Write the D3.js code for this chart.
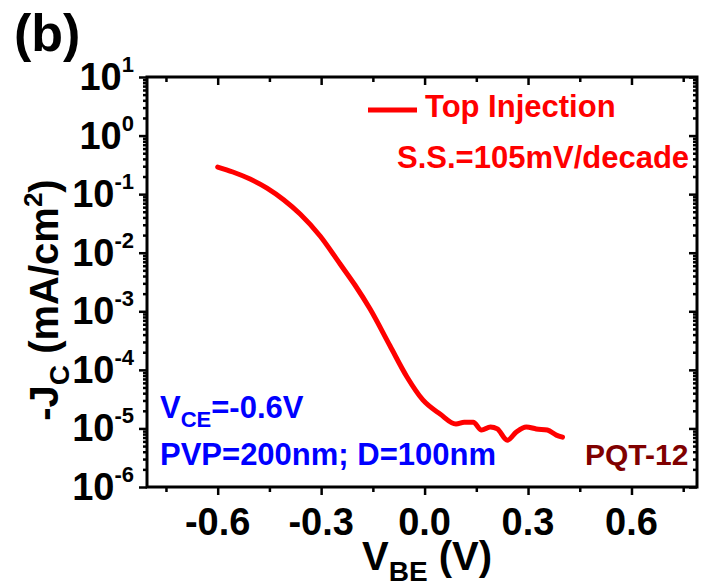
<!DOCTYPE html>
<html><head><meta charset="utf-8">
<script src="https://cdn.jsdelivr.net/npm/d3@7"></script>
<style>
body{margin:0;background:#fff;}
svg text{font-family:Arial,"Liberation Sans",sans-serif;font-weight:bold;}
</style></head>
<body><svg id="c" width="702" height="588"></svg>
<script>
// Data
const vbe = [-0.6,-0.556,-0.506,-0.457,-0.408,-0.361,-0.303,-0.245,-0.202,-0.158,-0.10,-0.051,-0.005,0.045,0.091,0.115,0.141,0.165,0.191,0.211,0.24,0.266,0.295,0.324,0.356,0.382,0.4];
const jc  = [0.29,0.239,0.181,0.127,0.0795,0.0458,0.0193,0.00641,0.00281,0.00109,2.55e-4,7.55e-5,3.06e-5,1.76e-5,1.19e-5,1.28e-5,1.28e-5,9.4e-6,1.06e-5,9.8e-6,6.3e-6,8.7e-6,1.06e-5,9.8e-6,9.4e-6,7.7e-6,7.1e-6];
const xTicks = [-0.6,-0.3,0.0,0.3,0.6];
const xTickLabels = ["-0.6","-0.3","0.0","0.3","0.6"];
const xMinor = [-0.75,-0.45,-0.15,0.15,0.45,0.75];
const yExps = [1,0,-1,-2,-3,-4,-5,-6];

const svg = d3.select("#c");
const L=147,R=697,T=77,B=487;
const x = d3.scaleLinear().domain([-0.805,0.79]).range([L,R]);
const y = d3.scaleLog().domain([1e-6,10]).range([B,T]);

const yMajor = yExps.map(e=>Math.pow(10,e));
const yMinor = [];
for(let e=-6;e<1;e++) for(let m=2;m<=9;m++) yMinor.push(m*Math.pow(10,e));

function styleAxis(g){g.select(".domain").remove();g.selectAll("line").attr("stroke","#000").attr("stroke-width",2.5);g.selectAll("text").remove();}

// bottom (outward) and top (inward)
svg.append("g").attr("transform",`translate(0,${B})`).call(d3.axisBottom(x).tickValues(xTicks).tickSize(8).tickFormat("")).call(styleAxis);
svg.append("g").attr("transform",`translate(0,${B})`).call(d3.axisBottom(x).tickValues(xMinor).tickSize(5).tickFormat("")).call(styleAxis);
svg.append("g").attr("transform",`translate(0,${T})`).call(d3.axisBottom(x).tickValues(xTicks).tickSize(8).tickFormat("")).call(styleAxis);
svg.append("g").attr("transform",`translate(0,${T})`).call(d3.axisBottom(x).tickValues(xMinor).tickSize(5).tickFormat("")).call(styleAxis);
// left (outward) and right (inward)
svg.append("g").attr("transform",`translate(${L},0)`).call(d3.axisLeft(y).tickValues(yMajor).tickSize(8).tickFormat("")).call(styleAxis);
svg.append("g").attr("transform",`translate(${L},0)`).call(d3.axisLeft(y).tickValues(yMinor).tickSize(4).tickFormat("")).call(styleAxis);
svg.append("g").attr("transform",`translate(${R},0)`).call(d3.axisLeft(y).tickValues(yMajor).tickSize(8).tickFormat("")).call(styleAxis);
svg.append("g").attr("transform",`translate(${R},0)`).call(d3.axisLeft(y).tickValues(yMinor).tickSize(4).tickFormat("")).call(styleAxis);

// frame
svg.append("rect").attr("x",L).attr("y",T).attr("width",R-L).attr("height",B-T)
  .attr("fill","none").attr("stroke","#000").attr("stroke-width",3);

// x tick labels
svg.selectAll(".xl").data(xTicks).enter().append("text")
  .attr("x",(d)=>x(d)).attr("y",535).attr("text-anchor","middle")
  .attr("font-size",38).text((d,i)=>xTickLabels[i]);

// y tick labels
yExps.forEach(e=>{
  const t = svg.append("text").attr("x",134).attr("y",y(Math.pow(10,e))+13).attr("text-anchor","end").attr("font-size",38);
  t.append("tspan").text("10");
  t.append("tspan").attr("dy",-18).attr("font-size",22).text(String(e));
});

// curve
const line = d3.line().x((d,i)=>x(vbe[i])).y(d=>y(d)).curve(d3.curveMonotoneX);
svg.append("path").attr("d",line(jc)).attr("fill","none").attr("stroke","#ff0000").attr("stroke-width",5).attr("stroke-linejoin","round").attr("stroke-linecap","round");

// panel label
svg.append("text").attr("x",14).attr("y",51).attr("font-size",52).text("(b)");

// axis titles
const xt = svg.append("text").attr("x",427).attr("y",570).attr("text-anchor","middle").attr("font-size",40);
xt.append("tspan").text("V");
xt.append("tspan").attr("dy",11).attr("font-size",28).text("BE");
xt.append("tspan").attr("dy",-11).text(" (V)");

const yt = svg.append("text").attr("transform","translate(58,300) rotate(-90)").attr("text-anchor","middle").attr("font-size",40);
yt.append("tspan").text("-J");
yt.append("tspan").attr("dy",11).attr("font-size",28).text("C");
yt.append("tspan").attr("dy",-11).text(" (mA/cm");
yt.append("tspan").attr("dy",-16).attr("font-size",26).text("2");
yt.append("tspan").attr("dy",16).text(")");

// legend
svg.append("line").attr("x1",368).attr("x2",417).attr("y1",110).attr("y2",110).attr("stroke","#ff0000").attr("stroke-width",5);
svg.append("text").attr("x",425).attr("y",117).attr("font-size",31).attr("fill","#ff0000").text("Top Injection");
svg.append("text").attr("x",397).attr("y",168).attr("font-size",31).attr("fill","#ff0000").text("S.S.=105mV/decade");

// annotations
const v = svg.append("text").attr("x",160).attr("y",418).attr("font-size",31).attr("fill","#0000ff");
v.append("tspan").text("V");
v.append("tspan").attr("dy",9).attr("font-size",22).text("CE");
v.append("tspan").attr("dy",-9).text("=-0.6V");
svg.append("text").attr("x",160).attr("y",465).attr("font-size",31).attr("fill","#0000ff").text("PVP=200nm; D=100nm");
svg.append("text").attr("x",585).attr("y",465).attr("font-size",30).attr("fill","#800000").text("PQT-12");
</script></body></html>
